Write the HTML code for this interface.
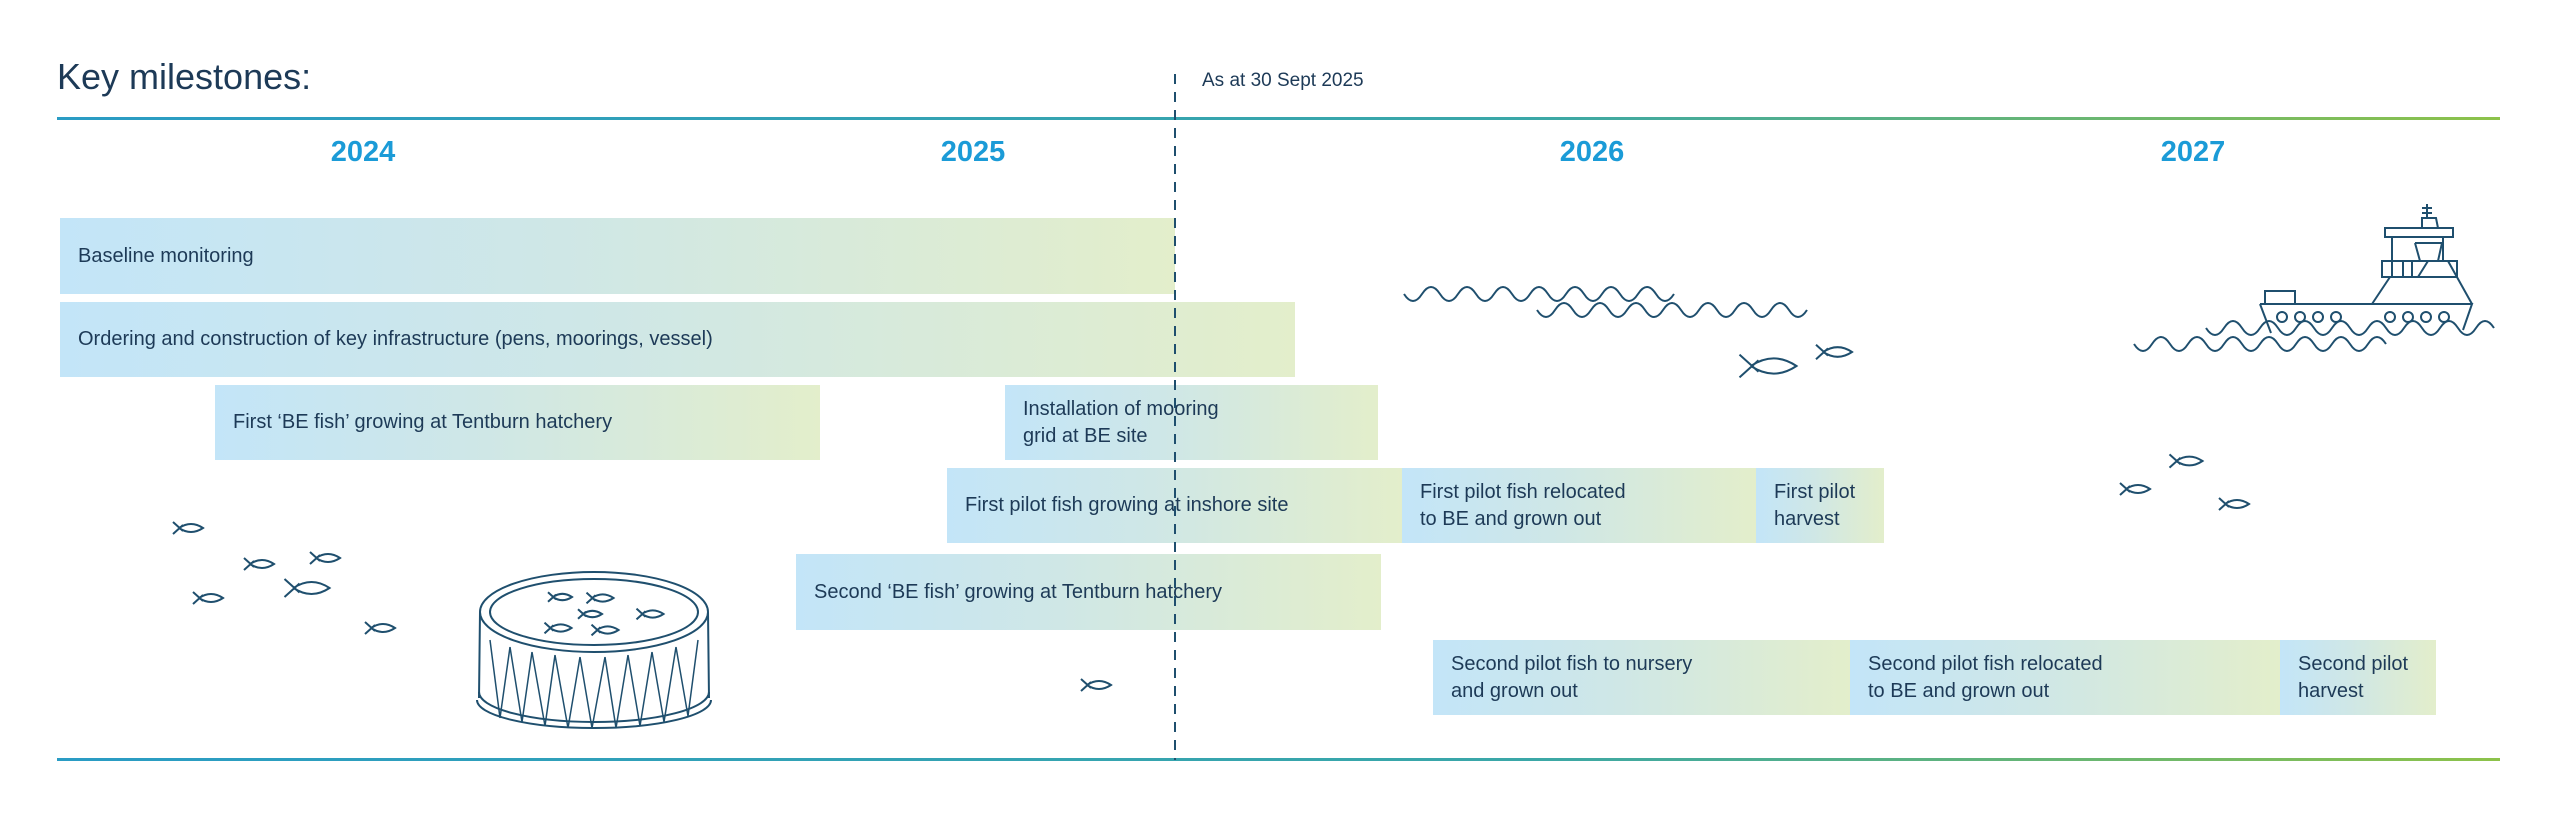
<!DOCTYPE html>
<html><head><meta charset="utf-8"><style>
html,body{margin:0;padding:0;background:#fff;}
body{width:2560px;height:813px;position:relative;overflow:hidden;font-family:"Liberation Sans",sans-serif;color:#1d3a57;}
.t{position:absolute;}
.bar{position:absolute;background:linear-gradient(90deg,#c3e5f8 0%,#cfe7e6 45%,#e3eecb 100%);font-size:20px;line-height:27px;box-sizing:border-box;padding-left:18px;display:flex;align-items:center;}
.yr{position:absolute;top:136px;font-size:29px;font-weight:bold;color:#1b9bd7;transform:translateX(-50%);}
.hl{position:absolute;left:57px;width:2443px;height:3px;background:linear-gradient(90deg,#2a9cc4,#3aa7a8 60%,#8dc24a);}
svg{position:absolute;left:0;top:0;}
</style></head><body>
<div class="t" style="left:57px;top:56px;font-size:36px;">Key milestones:</div>
<div class="t" style="left:1202px;top:70px;font-size:19px;">As at 30 Sept 2025</div>
<div class="hl" style="top:117px;"></div>
<div class="hl" style="top:758px;"></div>
<div class="yr" style="left:363px;">2024</div>
<div class="yr" style="left:973px;">2025</div>
<div class="yr" style="left:1592px;">2026</div>
<div class="yr" style="left:2193px;">2027</div>

<div class="bar" style="left:60px;top:218px;width:1115px;height:76px;">Baseline monitoring</div>
<div class="bar" style="left:60px;top:302px;width:1235px;height:75px;">Ordering and construction of key infrastructure (pens, moorings, vessel)</div>
<div class="bar" style="left:215px;top:385px;width:605px;height:75px;">First ‘BE fish’ growing at Tentburn hatchery</div>
<div class="bar" style="left:1005px;top:385px;width:373px;height:75px;">Installation of mooring<br>grid at BE site</div>
<div class="bar" style="left:947px;top:468px;width:455px;height:75px;">First pilot fish growing at inshore site</div>
<div class="bar" style="left:1402px;top:468px;width:354px;height:75px;">First pilot fish relocated<br>to BE and grown out</div>
<div class="bar" style="left:1756px;top:468px;width:128px;height:75px;">First pilot<br>harvest</div>
<div class="bar" style="left:796px;top:554px;width:585px;height:76px;">Second ‘BE fish’ growing at Tentburn hatchery</div>
<div class="bar" style="left:1433px;top:640px;width:417px;height:75px;">Second pilot fish to nursery<br>and grown out</div>
<div class="bar" style="left:1850px;top:640px;width:430px;height:75px;">Second pilot fish relocated<br>to BE and grown out</div>
<div class="bar" style="left:2280px;top:640px;width:156px;height:75px;">Second pilot<br>harvest</div>

<svg width="2560" height="813" viewBox="0 0 2560 813" fill="none" stroke="#1f4f6e" stroke-width="2">
<defs>
<g id="f"><path vector-effect="non-scaling-stroke" d="M-15,-6 L-5,3 M-15,6 L-5,-3 M-9,0 Q3,-8 15,0 Q3,8 -9,0"/></g>
</defs>
<line x1="1175" y1="74" x2="1175" y2="760" stroke-dasharray="10,8" stroke-width="2"/>
<use href="#f" transform="translate(188,528)"/>
<use href="#f" transform="translate(259,564)"/>
<use href="#f" transform="translate(325,558)"/>
<use href="#f" transform="translate(208,598)"/>
<use href="#f" transform="translate(307,588) scale(1.5)"/>
<use href="#f" transform="translate(380,628)"/>
<use href="#f" transform="translate(1096,685)"/>
<ellipse cx="594" cy="612" rx="114" ry="40"/>
<ellipse cx="594" cy="612" rx="104" ry="33"/>
<path d="M480,612 L479,698 M708,612 L709,698"/>
<path d="M477,700 A117,28 0 0 0 711,700"/>
<path d="M479,692 A115,30 0 0 0 709,692"/>
<path d="M490,640 L500,718 M510,647 L500,718 M510,647 L522,722 M532,652 L522,722 M532,652 L545,726 M555,655 L545,726 M555,655 L568,728 M580,657 L568,728 M580,657 L592,728 M605,657 L592,728 M605,657 L616,728 M628,655 L616,728 M628,655 L640,726 M652,652 L640,726 M652,652 L664,722 M676,647 L664,722 M676,647 L688,716 M698,640 L688,716" stroke-width="1.5"/>
<use href="#f" transform="translate(560,597) scale(0.8)"/>
<use href="#f" transform="translate(600,598) scale(0.9)"/>
<use href="#f" transform="translate(590,614) scale(0.8)"/>
<use href="#f" transform="translate(650,614) scale(0.9)"/>
<use href="#f" transform="translate(558,628) scale(0.9)"/>
<use href="#f" transform="translate(605,630) scale(0.9)"/>
<path d="M1404,294 q9,14 18,0 t18,0 t18,0 t18,0 t18,0 t18,0 t18,0 t18,0 t18,0 t18,0 t18,0 t18,0 t18,0 t18,0 t18,0"/>
<path d="M1537,310 q9,14 18,0 t18,0 t18,0 t18,0 t18,0 t18,0 t18,0 t18,0 t18,0 t18,0 t18,0 t18,0 t18,0 t18,0 t18,0"/>
<use href="#f" transform="translate(1768,366) scale(1.9)"/>
<use href="#f" transform="translate(1834,352) scale(1.2)"/>
<use href="#f" transform="translate(2186,461) scale(1.1)"/>
<use href="#f" transform="translate(2135,489)"/>
<use href="#f" transform="translate(2234,504)"/>
<path d="M2260,304 L2472,304 L2463,330 M2260,304 L2271,333"/>
<path d="M2265,304 L2265,291 L2295,291 L2295,304"/>
<path d="M2372,304 L2390,277 M2448,261 L2472,304"/>
<rect x="2382" y="261" width="75" height="16"/>
<path d="M2392,261 L2392,277 M2403,261 L2403,277 M2412,261 L2412,277 M2418,277 L2428,261"/>
<path d="M2392,261 L2392,237 M2443,261 L2443,237"/>
<rect x="2385" y="228" width="68" height="9"/>
<path d="M2415,243 L2442,243 L2438,261 M2415,243 L2420,261"/>
<path d="M2422,228 L2422,218 L2436,218 L2438,228 M2427,218 L2427,204 M2422,208 L2432,208 M2422,213 L2432,213"/>
<circle cx="2282" cy="317" r="5"/><circle cx="2300" cy="317" r="5"/><circle cx="2318" cy="317" r="5"/><circle cx="2336" cy="317" r="5"/>
<circle cx="2390" cy="317" r="5"/><circle cx="2408" cy="317" r="5"/><circle cx="2426" cy="317" r="5"/><circle cx="2444" cy="317" r="5"/>
<path d="M2206,328 q9,14 18,0 t18,0 t18,0 t18,0 t18,0 t18,0 t18,0 t18,0 t18,0 t18,0 t18,0 t18,0 t18,0 t18,0 t18,0 t18,0"/>
<path d="M2134,344 q9,14 18,0 t18,0 t18,0 t18,0 t18,0 t18,0 t18,0 t18,0 t18,0 t18,0 t18,0 t18,0 t18,0 t18,0"/>
</svg>
</body></html>
